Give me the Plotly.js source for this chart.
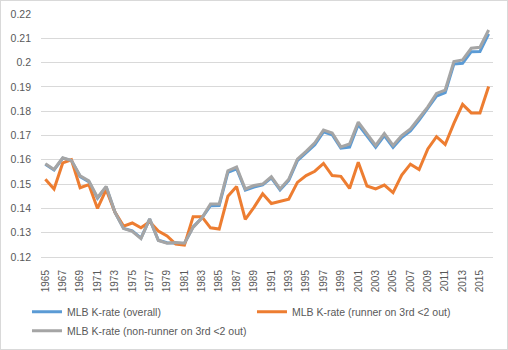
<!DOCTYPE html>
<html>
<head>
<meta charset="utf-8">
<script src="https://cdn.plot.ly/plotly-3.0.1.min.js"></script>
<style>
html,body{margin:0;padding:0;background:#fff;}
#wrap{position:relative;width:508px;height:350px;}
#chart{width:508px;height:350px;}
#frame{position:absolute;left:0;top:0;width:506px;height:348px;border:1px solid #d9d9d9;pointer-events:none;}
</style>
</head>
<body>
<div id="wrap"><div id="chart"></div><div id="frame"></div></div>
<script>
const years = [];
for (let y = 1965; y <= 2016; y++) years.push(y);

const tickYears = [1965,1967,1969,1971,1973,1975,1977,1979,1981,1983,1985,1987,1989,1991,1993,1995,1997,1999,2001,2003,2005,2007,2009,2011,2013,2015];

const overall = [0.1582,0.1558,0.1607,0.1597,0.1531,0.1510,0.1442,0.1488,0.1385,0.1318,
0.1308,0.1278,0.1356,0.1269,0.1259,0.1258,0.1256,0.1324,0.1360,0.1411,
0.1412,0.1548,0.1563,0.1475,0.1488,0.1497,0.1526,0.1476,0.1515,0.1597,
0.1628,0.1662,0.1715,0.1703,0.1648,0.1652,0.1745,0.1700,0.1652,0.1700,
0.1651,0.1692,0.1719,0.1763,0.1810,0.1862,0.1876,0.1994,0.1997,0.2045,
0.2046,0.2118];

const runner3rd = [0.152,0.148,0.1587,0.160,0.1485,0.1498,0.140,0.1477,0.1385,0.1327,
0.134,0.132,0.1345,0.1307,0.1287,0.1253,0.1249,0.1366,0.1366,0.132,
0.1315,0.145,0.149,0.1355,0.1404,0.146,0.142,0.1428,0.1438,0.1507,
0.1535,0.1553,0.1585,0.1535,0.1532,0.1482,0.159,0.1492,0.148,0.1496,
0.1465,0.1537,0.1582,0.156,0.1645,0.1695,0.1663,0.175,0.1828,0.1793,
0.1793,0.1902];

const nonRunner = [0.1584,0.156,0.1608,0.1597,0.1534,0.1513,0.1445,0.149,0.1385,0.1317,
0.1306,0.1276,0.1357,0.1268,0.1257,0.126,0.1257,0.1322,0.136,0.1418,
0.1418,0.1555,0.157,0.148,0.1494,0.150,0.153,0.148,0.152,0.1603,
0.1635,0.167,0.1722,0.171,0.1653,0.1665,0.1755,0.1708,0.1659,0.1708,
0.1659,0.170,0.1727,0.1772,0.1818,0.1873,0.1887,0.2004,0.2011,0.2059,
0.2063,0.2134];

const names = ["MLB K-rate (overall)", "MLB K-rate (runner on 3rd <2 out)", "MLB K-rate (non-runner on 3rd <2 out)"];
const colors = ["#5b9bd5", "#ed7d31", "#a5a5a5"];
const series = [overall, runner3rd, nonRunner];

const traces = series.map((s, i) => ({
  x: years, y: s, name: names[i], type: "scatter", mode: "lines",
  line: {color: colors[i], width: 3}
}));

const font = {family: "Liberation Sans, Arial, sans-serif", size: 11, color: "#595959"};

const layout = {
  width: 508, height: 350,
  margin: {l: 41, r: 15, t: 14, b: 93, pad: 0, autoexpand: false},
  paper_bgcolor: "#fff", plot_bgcolor: "#fff",
  font: font,
  showlegend: true,
  xaxis: {
    range: [1964.5, 2016.5], automargin: false,
    tickmode: "array", tickvals: tickYears, ticktext: tickYears.map(String),
    tickangle: -90, showgrid: false, zeroline: false,
    showline: true, linecolor: "#d9d9d9", linewidth: 1,
    ticks: "", tickfont: {size: 10, color: "#595959"}, ticklabelstandoff: 8
  },
  yaxis: {
    range: [0.12, 0.22], dtick: 0.01, tick0: 0.12, automargin: false,
    showgrid: true, gridcolor: "#d9d9d9", gridwidth: 1,
    zeroline: false, showline: false, ticks: "",
    tickfont: {size: 10.5, color: "#595959"}, ticklabelstandoff: 9
  },
  legend: {
    orientation: "h", x: -0.031, xanchor: "left", y: -0.166, yanchor: "top",
    entrywidth: 180, entrywidthmode: "pixels",
    font: {size: 10.5, color: "#595959"}, traceorder: "normal"
  }
};

Plotly.newPlot("chart", traces, layout, {displayModeBar: false, staticPlot: true});
</script>
</body>
</html>
